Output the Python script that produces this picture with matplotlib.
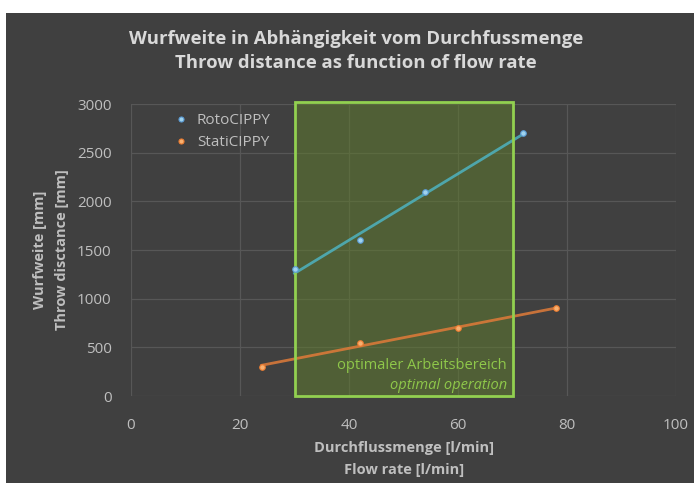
import numpy as np
import matplotlib
matplotlib.use("Agg")
import matplotlib.pyplot as plt
from matplotlib.patches import Rectangle

plt.rcParams['font.family'] = ['Open Sans', 'DejaVu Sans']

# data
roto_x = [30, 42, 54, 72]
roto_y = [1300, 1600, 2100, 2700]
stati_x = [24, 42, 60, 78]
stati_y = [300, 540, 700, 900]
range_lo, range_hi = 30, 70
xticks = [0, 20, 40, 60, 80, 100]
yticks = [0, 500, 1000, 1500, 2000, 2500, 3000]

W, H = 694, 483
fig = plt.figure(figsize=(W/100, H/100), dpi=100)
fig.patch.set_facecolor('white')
bg = '#404040'
fig.patches.append(Rectangle((6/W, 0), 1, (H-13)/H, transform=fig.transFigure,
                             facecolor=bg, edgecolor='none', zorder=-10))

ax = fig.add_axes([131/W, (H-396)/H, (676-131)/W, (396-104)/H])
ax.set_facecolor(bg)
ax.set_xlim(0, 100)
ax.set_ylim(0, 3000)
ax.set_xticks(xticks)
ax.set_yticks(yticks)
for s in ax.spines.values():
    s.set_visible(False)
ax.grid(True, color='#575757', lw=0.9)
ax.set_axisbelow(True)
ax.tick_params(length=0, colors='#bfbfbf', labelsize=11)
ax.tick_params(axis='x', pad=16)
ax.tick_params(axis='y', pad=14)

# optimal range
ax.add_patch(Rectangle((range_lo, 0), range_hi-range_lo, 3020, facecolor='#5f7a2e', alpha=0.55,
                       edgecolor='none', zorder=1, clip_on=False))
ax.add_patch(Rectangle((range_lo, 0), range_hi-range_lo, 3020, facecolor='none',
                       edgecolor='#92d050', lw=2, zorder=4, clip_on=False))

# trend lines
for xs, ys, col in [(roto_x, roto_y, '#4eb3c0'), (stati_x, stati_y, '#e07b39')]:
    p = np.polyfit(xs, ys, 1)
    xx = np.array([min(xs), max(xs)])
    ax.plot(xx, np.polyval(p, xx), color=col, lw=2, zorder=2, alpha=0.85)

ax.plot(roto_x, roto_y, 'o', ms=4, color='#9fd3ee', mec='#5b9bd5', mew=0.8, zorder=5, label='RotoCIPPY')
ax.plot(stati_x, stati_y, 'o', ms=4, color='#f8b070', mec='#ed7d31', mew=0.8, zorder=5, label='StatiCIPPY')

leg = ax.legend(loc='upper left', bbox_to_anchor=(0.045, 1.015), frameon=False, fontsize=11,
                handletextpad=0.2, labelspacing=0.45, markerscale=0.9, handlelength=1.6)
for t in leg.get_texts():
    t.set_color('#bfbfbf')

ax.text(69, 318, 'optimaler Arbeitsbereich', color='#8fc84a', fontsize=10.5, ha='right', va='center', zorder=6)
ax.text(69, 113, 'optimal operation', color='#8fc84a', fontsize=10.5, ha='right', va='center',
        style='italic', zorder=6)

fig.text(356/W, 1-39/H, 'Wurfweite in Abhängigkeit vom Durchfussmenge', ha='center', va='center',
         color='#d9d9d9', fontsize=13.3, fontweight='bold')
fig.text(356/W, 1-63/H, 'Throw distance as function of flow rate', ha='center', va='center',
         color='#d9d9d9', fontsize=13.3, fontweight='bold')

fig.text(404/W, 1-448/H, 'Durchflussmenge [l/min]', ha='center', va='center',
         color='#bfbfbf', fontsize=10.5, fontweight='bold')
fig.text(404/W, 1-470/H, 'Flow rate [l/min]', ha='center', va='center',
         color='#bfbfbf', fontsize=10.5, fontweight='bold')

fig.text(40/W, 1-250/H, 'Wurfweite [mm]', ha='center', va='center', rotation=90,
         color='#bfbfbf', fontsize=10.5, fontweight='bold')
fig.text(62/W, 1-250/H, 'Throw disctance [mm]', ha='center', va='center', rotation=90,
         color='#bfbfbf', fontsize=10.5, fontweight='bold')

fig.savefig('out.png', dpi=100)
